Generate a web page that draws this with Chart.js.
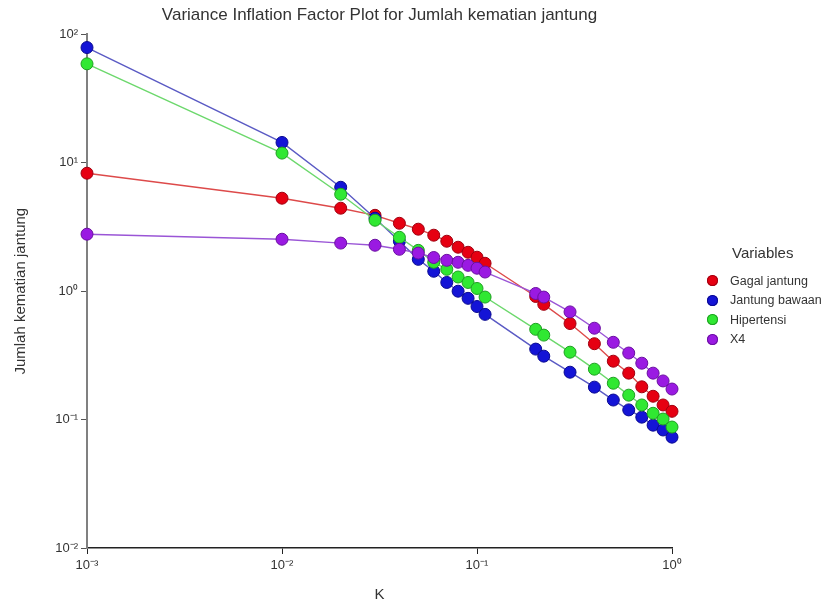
<!DOCTYPE html>
<html>
<head>
<meta charset="utf-8">
<script src="https://cdn.jsdelivr.net/npm/chart.js@4.4.1/dist/chart.umd.min.js"></script>
<style>
  body { margin: 0; background: #fff; font-family: "Liberation Sans", Arial, sans-serif; }
  #wrap { position: relative; width: 824px; height: 604px; }
  #legend { position: absolute; left: 700px; top: 244px; color: #333; }
  #legend .ttl { font-size: 15px; margin-left: 32px; margin-bottom: 10px; }
  #legend .item { display: flex; align-items: center; height: 19.5px; font-size: 12.5px; }
  #legend .dot { width: 11px; height: 11px; border-radius: 50%; margin-left: 7px; margin-right: 12px; }
</style>
</head>
<body>
<div id="wrap">
  <canvas id="vif-chart"></canvas>
  <div id="legend"></div>
</div>
<script>
// ridge parameter K
const kValues = [0.001, 0.01, 0.02, 0.03, 0.04, 0.05, 0.06, 0.07, 0.08, 0.09, 0.1, 0.11,
                 0.2, 0.22, 0.3, 0.4, 0.5, 0.6, 0.7, 0.8, 0.9, 1.0];

const gagalJantung = [8.3, 5.3, 4.43, 3.9, 3.38, 3.04, 2.73, 2.45, 2.2, 2.01, 1.84, 1.65,
                      0.91, 0.79, 0.56, 0.39, 0.285, 0.23, 0.18, 0.152, 0.13, 0.116];
const jantungBawaan = [79, 14.4, 6.45, 3.7, 2.45, 1.77, 1.43, 1.17, 1.0, 0.88, 0.76, 0.66,
                       0.354, 0.312, 0.234, 0.179, 0.142, 0.119, 0.1045, 0.0905, 0.083, 0.073];
const hipertensi = [59, 11.9, 5.69, 3.57, 2.63, 2.08, 1.68, 1.48, 1.29, 1.17, 1.05, 0.9,
                    0.505, 0.455, 0.335, 0.247, 0.192, 0.155, 0.13, 0.112, 0.101, 0.0875];
const x4 = [2.78, 2.54, 2.37, 2.28, 2.12, 1.98, 1.83, 1.74, 1.68, 1.59, 1.51, 1.41,
            0.96, 0.9, 0.69, 0.515, 0.4, 0.33, 0.275, 0.23, 0.2, 0.173];

const seriesNames = ['Gagal jantung', 'Jantung bawaan', 'Hipertensi', 'X4'];

const xTickValues = [0.001, 0.01, 0.1, 1];
const xTickLabels = ['10\u207B\u00B3', '10\u207B\u00B2', '10\u207B\u00B9', '10\u2070'];
const yTickValues = [0.01, 0.1, 1, 10, 100];
const yTickLabels = ['10\u207B\u00B2', '10\u207B\u00B9', '10\u2070', '10\u00B9', '10\u00B2'];

const fillColors = ['#e60012', '#1414d6', '#30e832', '#9a1ae2'];
const edgeColors = ['#a00010', '#0a0a90', '#1f9e22', '#6a10a0'];
const lineColors = ['#dd4a4a', '#5a5ac4', '#6cd86c', '#9a55d6'];
const drawOrder = [3, 2, 1, 0]; // X4 drawn on top, like the reference

const font = '"Liberation Sans", Arial, sans-serif';

function toPoints(ys) {
    return kValues.map((k, i) => ({ x: k, y: ys[i] }));
}

const allSeries = [gagalJantung, jantungBawaan, hipertensi, x4];

const datasets = allSeries.map((ys, i) => ({
    label: seriesNames[i],
    data: toPoints(ys),
    borderColor: lineColors[i],
    borderWidth: 1.4,
    backgroundColor: fillColors[i],
    pointBackgroundColor: fillColors[i],
    pointBorderColor: edgeColors[i],
    pointBorderWidth: 1,
    pointRadius: 6,
    tension: 0,
    clip: false,
    order: drawOrder[i]
}));

new Chart(document.getElementById('vif-chart'), {
    type: 'line',
    data: { datasets },
    options: {
        responsive: true,
        maintainAspectRatio: false,
        animation: false,
        layout: { padding: { left: 0, right: 152, top: 0, bottom: 0 } },
        plugins: {
            legend: { display: false },
            tooltip: { enabled: false },
            title: {
                display: true,
                fullSize: false,
                text: 'Variance Inflation Factor Plot for Jumlah kematian jantung',
                color: '#333',
                font: { family: font, size: 17, weight: 'normal' },
                padding: { top: 5, bottom: 9 }
            }
        },
        scales: {
            x: {
                type: 'logarithmic',
                min: 0.001,
                max: 1,
                afterBuildTicks: s => { s.ticks = xTickValues.map(v => ({ value: v })); },
                afterFit: s => { s.height = 56; },
                grid: { drawOnChartArea: false, drawTicks: true, tickLength: 6, color: '#222' },
                border: { color: '#222', width: 1.5 },
                ticks: {
                    color: '#333',
                    padding: 4,
                    maxRotation: 0,
                    autoSkip: false,
                    font: { family: font, size: 13 },
                    callback: v => xTickLabels[xTickValues.indexOf(v)]
                },
                title: {
                    display: true,
                    text: 'K',
                    color: '#333',
                    font: { family: font, size: 15 },
                    padding: { top: 0, bottom: 0 }
                }
            },
            y: {
                type: 'logarithmic',
                min: 0.01,
                max: 100,
                afterBuildTicks: s => { s.ticks = yTickValues.map(v => ({ value: v })); },
                afterFit: s => { s.width = 87; },
                grid: { drawOnChartArea: false, drawTicks: true, tickLength: 6, color: '#555' },
                border: { color: '#808080', width: 2 },
                ticks: {
                    color: '#333',
                    padding: 3,
                    autoSkip: false,
                    font: { family: font, size: 13 },
                    callback: v => yTickLabels[yTickValues.indexOf(v)]
                },
                title: {
                    display: true,
                    text: 'Jumlah kematian jantung',
                    color: '#333',
                    font: { family: font, size: 15 },
                    padding: { top: 12, bottom: 0 }
                }
            }
        }
    }
});

// legend built from the series names and colours
const legend = document.getElementById('legend');
legend.innerHTML = '<div class="ttl">Variables</div>' + seriesNames.map((name, i) =>
    `<div class="item"><span class="dot" style="background:${fillColors[i]};box-shadow:0 0 0 1px ${edgeColors[i]} inset"></span>${name}</div>`
).join('');
</script>
</body>
</html>
